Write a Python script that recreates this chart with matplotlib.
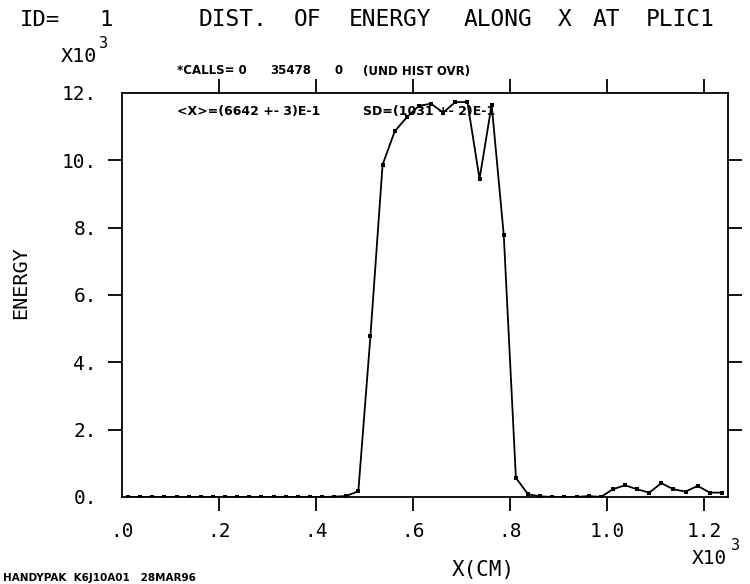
import matplotlib
matplotlib.use("Agg")
import matplotlib.pyplot as plt

# ---- data (x in units of 10^3 cm, energy in units of 10^3) ----
bin_width = 0.025
n_bins = 50
x_centers = [bin_width * (i + 0.5) for i in range(n_bins)]
energy = [0.0, 0.0, 0.0, 0.0, 0.0, 0.0, 0.0, 0.0, 0.0, 0.0,
          0.0, 0.0, 0.0, 0.0, 0.0, 0.0, 0.0, 0.01, 0.03, 0.17,
          4.79, 9.87, 10.86, 11.28, 11.62, 11.68, 11.42, 11.73, 11.73, 9.45,
          11.65, 7.77, 0.57, 0.08, 0.02, 0.0, 0.0, 0.0, 0.03, 0.0,
          0.23, 0.35, 0.23, 0.13, 0.41, 0.23, 0.16, 0.33, 0.13, 0.13]

x_ticks = [0.0, 0.2, 0.4, 0.6, 0.8, 1.0, 1.2]
x_tick_labels = [".0", ".2", ".4", ".6", ".8", "1.0", "1.2"]
y_ticks = [0, 2, 4, 6, 8, 10, 12]
y_tick_labels = ["0.", "2.", "4.", "6.", "8.", "10.", "12."]

title_id = "ID="
title_num = "1"
title = "DIST. OF ENERGY ALONG X AT PLIC1"
calls_parts = ["*CALLS= 0", "35478", "0", "(UND HIST OVR)"]
stats_parts = ["<X>=(6642 +- 3)E-1", "SD=(1031 +- 2)E-1"]
footer = "HANDYPAK  K6J10A01   28MAR96"

W, H = 750, 584
fig = plt.figure(figsize=(W / 100, H / 100), dpi=100)
mono = "DejaVu Sans Mono"
sans = "DejaVu Sans"

def fx(px):
    return px / W

def fy(py):
    return 1 - py / H

ax = fig.add_axes([fx(122), fy(497), fx(728) - fx(122), fy(93) - fy(497)])
ax.plot(x_centers, energy, color="black", lw=1.3, marker="s", ms=2.8,
        markerfacecolor="black", markeredgewidth=0)
ax.set_xlim(0, 1.25)
ax.set_ylim(0, 12)

ax.set_xticks(x_ticks)
ax.set_xticklabels(x_tick_labels, fontsize=14, family=mono)
ax.set_yticks(y_ticks)
ax.set_yticklabels(y_tick_labels, fontsize=14, family=mono)
ax.tick_params(axis="both", direction="out", length=10, width=1.3, pad=8,
               top=True, right=True, colors="black")
for t in (ax.xaxis.get_major_ticks()[0], ax.yaxis.get_major_ticks()[0],
          ax.yaxis.get_major_ticks()[-1]):
    t.tick1line.set_visible(False)
    t.tick2line.set_visible(False)
for s in ax.spines.values():
    s.set_linewidth(1.3)

# ---- title: words laid out on a fixed character pitch ----
t_left, t_right = 191, 722
pitch = (t_right - t_left) / len(title)
idx = 0
for word in title.split(" "):
    cx = t_left + (idx + len(word) / 2) * pitch
    fig.text(fx(cx), fy(20), word, fontsize=16.5, family=mono, va="center", ha="center")
    idx += len(word) + 1
fig.text(fx(20), fy(20), title_id, fontsize=16, family=mono, va="center", ha="left")
fig.text(fx(106), fy(20), title_num, fontsize=16, family=mono, va="center", ha="center")

# ---- scale factors ----
fig.text(fx(97), fy(57), "X10", fontsize=14.5, family=mono, va="center", ha="right")
fig.text(fx(99), fy(43), "3", fontsize=11, family=mono, va="center", ha="left")
fig.text(fx(727), fy(558), "X10", fontsize=14, family=mono, va="center", ha="right")
fig.text(fx(731), fy(545), "3", fontsize=11, family=mono, va="center", ha="left")

# ---- statistics lines ----
calls_x = [(177, "left"), (291, "center"), (339, "center"), (363, "left")]
for (px, ha), part in zip(calls_x, calls_parts):
    fig.text(fx(px), fy(71), part, fontsize=8.5, family=sans, fontweight="bold",
             va="center", ha=ha)
stats_x = [177, 363]
for px, part in zip(stats_x, stats_parts):
    fig.text(fx(px), fy(112), part, fontsize=9, family=sans, fontweight="bold",
             va="center", ha="left")

# ---- axis titles and footer ----
fig.text(fx(21), fy(283), "ENERGY", fontsize=14.5, family=mono, rotation=90,
         va="center", ha="center")
fig.text(fx(483), fy(570), "X(CM)", fontsize=15, family=mono, va="center", ha="center")
fig.text(fx(3), fy(578), footer, fontsize=7.5, family=sans, fontweight="bold",
         va="center", ha="left")

fig.savefig("out.png", dpi=100)
